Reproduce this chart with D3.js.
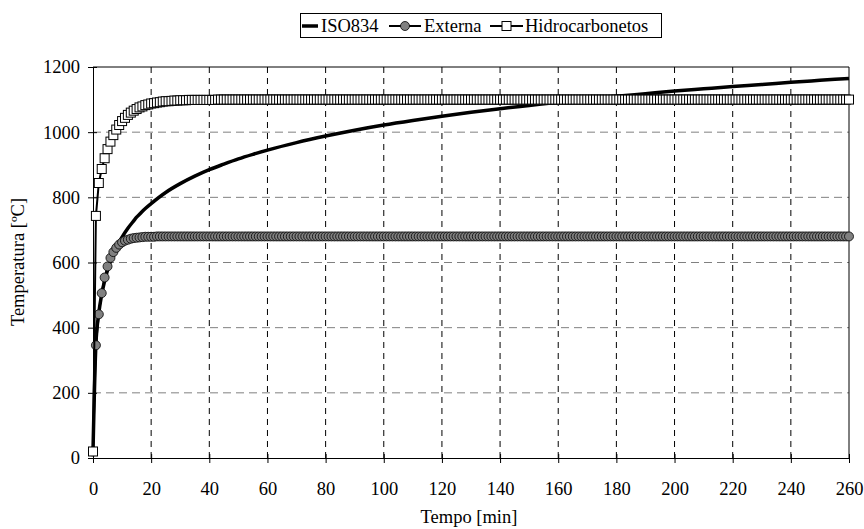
<!DOCTYPE html>
<html>
<head>
<meta charset="utf-8">
<script src="https://cdn.jsdelivr.net/npm/d3@7"></script>
<style>
  body { margin: 0; background: #fff; }
  text { font-family: "Liberation Serif", "Times New Roman", serif; }
</style>
</head>
<body>
<div id="chart"></div>
<script>
// curvas de incendio: ISO834, externa, hidrocarbonetos

var isoTempo = [0,1,2,3,4,5,6,7,8,9,10,12,14,15,16,18,20,25,30,35,40,45,50,55,60,70,80,90,100,110,120,130,140,150,160,170,180,190,200,210,220,230,240,250,260];
var isoTemp  = [20,349,445,502,544,576,603,626,645,663,678,705,728,739,748,766,781,815,842,865,885,902,918,932,945,968,988,1006,1022,1036,1049,1061,1072,1082,1092,1101,1110,1118,1126,1133,1140,1146,1153,1159,1165];

var minutos = d3.range(0, 261); // um ponto por minuto

var externa = [
  20,346,441,506,554,588,614,632,645,655,
  662,667,670,673,675,676,677,678,679,679,
  679,679,680,680,680,680,680,680,680,680,
  680,680,680,680,680,680,680,680,680,680,
  680,680,680,680,680,680,680,680,680,680,
  680,680,680,680,680,680,680,680,680,680,
  680,680,680,680,680,680,680,680,680,680,
  680,680,680,680,680,680,680,680,680,680,
  680,680,680,680,680,680,680,680,680,680,
  680,680,680,680,680,680,680,680,680,680,
  680,680,680,680,680,680,680,680,680,680,
  680,680,680,680,680,680,680,680,680,680,
  680,680,680,680,680,680,680,680,680,680,
  680,680,680,680,680,680,680,680,680,680,
  680,680,680,680,680,680,680,680,680,680,
  680,680,680,680,680,680,680,680,680,680,
  680,680,680,680,680,680,680,680,680,680,
  680,680,680,680,680,680,680,680,680,680,
  680,680,680,680,680,680,680,680,680,680,
  680,680,680,680,680,680,680,680,680,680,
  680,680,680,680,680,680,680,680,680,680,
  680,680,680,680,680,680,680,680,680,680,
  680,680,680,680,680,680,680,680,680,680,
  680,680,680,680,680,680,680,680,680,680,
  680,680,680,680,680,680,680,680,680,680,
  680,680,680,680,680,680,680,680,680,680,
  680
];

var hidrocarbonetos = [
  20,743,844,887,920,948,971,991,1008,1022,
  1034,1044,1053,1060,1066,1071,1076,1079,1083,1085,
  1088,1089,1091,1092,1094,1095,1095,1096,1097,1097,
  1098,1098,1098,1099,1099,1099,1099,1099,1099,1099,
  1099,1099,1099,1100,1100,1100,1100,1100,1100,1100,
  1100,1100,1100,1100,1100,1100,1100,1100,1100,1100,
  1100,1100,1100,1100,1100,1100,1100,1100,1100,1100,
  1100,1100,1100,1100,1100,1100,1100,1100,1100,1100,
  1100,1100,1100,1100,1100,1100,1100,1100,1100,1100,
  1100,1100,1100,1100,1100,1100,1100,1100,1100,1100,
  1100,1100,1100,1100,1100,1100,1100,1100,1100,1100,
  1100,1100,1100,1100,1100,1100,1100,1100,1100,1100,
  1100,1100,1100,1100,1100,1100,1100,1100,1100,1100,
  1100,1100,1100,1100,1100,1100,1100,1100,1100,1100,
  1100,1100,1100,1100,1100,1100,1100,1100,1100,1100,
  1100,1100,1100,1100,1100,1100,1100,1100,1100,1100,
  1100,1100,1100,1100,1100,1100,1100,1100,1100,1100,
  1100,1100,1100,1100,1100,1100,1100,1100,1100,1100,
  1100,1100,1100,1100,1100,1100,1100,1100,1100,1100,
  1100,1100,1100,1100,1100,1100,1100,1100,1100,1100,
  1100,1100,1100,1100,1100,1100,1100,1100,1100,1100,
  1100,1100,1100,1100,1100,1100,1100,1100,1100,1100,
  1100,1100,1100,1100,1100,1100,1100,1100,1100,1100,
  1100,1100,1100,1100,1100,1100,1100,1100,1100,1100,
  1100,1100,1100,1100,1100,1100,1100,1100,1100,1100,
  1100,1100,1100,1100,1100,1100,1100,1100,1100,1100,
  1100
];

var xTicks = [0,20,40,60,80,100,120,140,160,180,200,220,240,260];
var yTicks = [0,200,400,600,800,1000,1200];

var W = 864, H = 529;
var svg = d3.select("#chart").append("svg").attr("width", W).attr("height", H);
svg.append("rect").attr("width", W).attr("height", H).attr("fill", "white");

var x = d3.scaleLinear().domain([0, 260]).range([93, 849]);
var y = d3.scaleLinear().domain([0, 1200]).range([458, 67]);
var FS = "18.5px";

// grelha
svg.append("g").selectAll("line").data(yTicks.filter(function(d){ return d > 0 && d < 1200; })).enter().append("line")
  .attr("x1", x(0)).attr("x2", x(260))
  .attr("y1", function(d){ return y(d); }).attr("y2", function(d){ return y(d); })
  .attr("stroke", "#808080").attr("stroke-width", 1).attr("stroke-dasharray", "8,5");
svg.append("g").selectAll("line").data(xTicks.filter(function(d){ return d > 0 && d < 260; })).enter().append("line")
  .attr("x1", function(d){ return x(d); }).attr("x2", function(d){ return x(d); })
  .attr("y1", y(0)).attr("y2", y(1200))
  .attr("stroke", "#000").attr("stroke-width", 1).attr("stroke-dasharray", "6,5");

// moldura superior e direita
svg.append("line").attr("x1", x(0)).attr("x2", x(260)).attr("y1", y(1200)).attr("y2", y(1200)).attr("stroke", "#000");
svg.append("line").attr("x1", x(260)).attr("x2", x(260)).attr("y1", y(0)).attr("y2", y(1200)).attr("stroke", "#000");

// eixos
var gx = svg.append("g").attr("transform", "translate(0," + y(0) + ")")
  .call(d3.axisBottom(x).tickValues(xTicks).tickFormat(d3.format("d")).tickSize(5).tickSizeOuter(0).tickPadding(19));
var gy = svg.append("g").attr("transform", "translate(" + x(0) + ",0)")
  .call(d3.axisLeft(y).tickValues(yTicks).tickFormat(d3.format("d")).tickSize(5).tickSizeOuter(0).tickPadding(8));
gx.selectAll(".tick line").attr("y1", -4);
gy.selectAll(".tick line").attr("x1", 4);
[gx, gy].forEach(function(g){
  g.attr("font-family", null);
  g.select(".domain").attr("stroke", "#000");
  g.selectAll("text").style("font-size", FS).style("font-family", "Liberation Serif").attr("fill", "#000");
});

svg.append("text").attr("x", 469).attr("y", 523).attr("text-anchor", "middle").style("font-size", FS).text("Tempo [min]");
svg.append("text").attr("transform", "translate(24,262)rotate(-90)").attr("text-anchor", "middle").style("font-size", FS).text("Temperatura [ºC]");

// series
var lineIso = d3.line().x(function(d,i){ return x(isoTempo[i]); }).y(function(d){ return y(d); }).curve(d3.curveMonotoneX);
var lineMin = d3.line().x(function(d,i){ return x(minutos[i]); }).y(function(d){ return y(d); });

svg.append("path").datum(isoTemp).attr("d", lineIso).attr("fill", "none").attr("stroke", "#000").attr("stroke-width", 3.5);

svg.append("path").datum(externa).attr("d", lineMin).attr("fill", "none").attr("stroke", "#000").attr("stroke-width", 2);
svg.append("g").selectAll("circle").data(externa).enter().append("circle")
  .attr("cx", function(d,i){ return x(minutos[i]); }).attr("cy", function(d){ return y(d); })
  .attr("r", 4.5).attr("fill", "#808080").attr("stroke", "#000").attr("stroke-width", 0.8);

svg.append("path").datum(hidrocarbonetos).attr("d", lineMin).attr("fill", "none").attr("stroke", "#000").attr("stroke-width", 2);
svg.append("g").selectAll("rect").data(hidrocarbonetos).enter().append("rect")
  .attr("x", function(d,i){ return x(minutos[i]) - 4.5; }).attr("y", function(d){ return y(d) - 4.5; })
  .attr("width", 9).attr("height", 9).attr("fill", "white").attr("stroke", "#000").attr("stroke-width", 1);

// legenda
var leg = svg.append("g");
leg.append("rect").attr("x", 300.5).attr("y", 13.5).attr("width", 361).attr("height", 24)
  .attr("fill", "white").attr("stroke", "#000");
leg.append("line").attr("x1", 302).attr("x2", 318).attr("y1", 26).attr("y2", 26).attr("stroke", "#000").attr("stroke-width", 3.5);
leg.append("text").attr("x", 321).attr("y", 32).style("font-size", FS).text("ISO834");
leg.append("line").attr("x1", 389).attr("x2", 421).attr("y1", 26).attr("y2", 26).attr("stroke", "#000").attr("stroke-width", 2);
leg.append("circle").attr("cx", 405).attr("cy", 26).attr("r", 4.5).attr("fill", "#808080").attr("stroke", "#000").attr("stroke-width", 0.8);
leg.append("text").attr("x", 424).attr("y", 32).style("font-size", FS).text("Externa");
leg.append("line").attr("x1", 490).attr("x2", 523).attr("y1", 26).attr("y2", 26).attr("stroke", "#000").attr("stroke-width", 2);
leg.append("rect").attr("x", 502).attr("y", 21.5).attr("width", 9).attr("height", 9).attr("fill", "white").attr("stroke", "#000");
leg.append("text").attr("x", 525).attr("y", 32).style("font-size", FS).text("Hidrocarbonetos");
</script>
</body>
</html>
